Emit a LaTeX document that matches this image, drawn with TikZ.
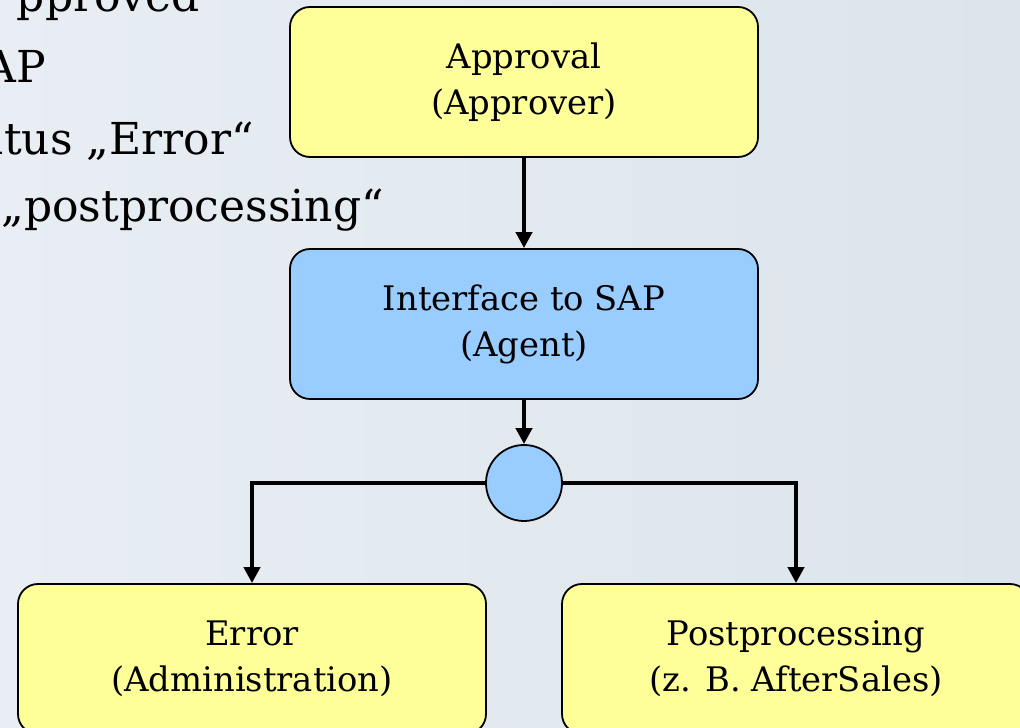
\documentclass[tikz,border=0pt]{standalone}
\usepackage{fontspec}
\setmainfont{DejaVu Serif}
\usetikzlibrary{arrows.meta}
\definecolor{bgcol}{RGB}{232,238,243}
\definecolor{bgcolb}{RGB}{220,229,236}
\definecolor{boxyellow}{RGB}{255,255,153}
\definecolor{boxblue}{RGB}{153,204,255}
\tikzset{
  stepbox/.style={draw=black, line width=1.8pt, rounded corners=20pt,
    minimum width=468pt, minimum height=150pt, align=center,
    font=\fontsize{33.8}{46}\selectfont, inner sep=0pt},
  yellowbox/.style={stepbox, fill=boxyellow},
  bluebox/.style={stepbox, fill=boxblue},
  joincircle/.style={draw=black, line width=1.8pt, circle, fill=boxblue,
    minimum size=76pt, inner sep=0pt},
  flow/.style={draw=black, line width=4.5pt,
    -{Triangle[length=16pt,width=16pt]}},
  slidetext/.style={anchor=base east, inner sep=0pt,
    font=\fontsize{44}{50}\selectfont, text=black}
}
\begin{document}
\begin{tikzpicture}[x=1pt,y=1pt]
\useasboundingbox (0,0) rectangle (1020,728);
\clip (0,0) rectangle (1020,728);
\shade[left color=bgcol, right color=bgcolb] (0,0) rectangle (1020,728);
% slide text fragments behind the diagram
\node[slidetext] (t1) at (200,716) {pproved};
\node[slidetext] (t2) at (46,645) {AP};
\node[slidetext] (t3) at (254,573) {atus „Error“};
\node[slidetext] (t4) at (384,506) {„postprocessing“};
% diagram
\node[yellowbox] (appr) at (524,646) {Approval\\(Approver)};
\node[bluebox] (iface) at (524,404) {Interface to SAP\\(Agent)};
\node[joincircle] (join) at (524,245) {};
\node[yellowbox] (err) at (252,69) {Error\\(Administration)};
\node[yellowbox] (post) at (796,69) {Postprocessing\\(z. B. AfterSales)};
\draw[flow] (appr.south) -- (iface.north);
\draw[flow] (iface.south) -- (join.north);
\draw[flow] (join.west) -| (err.north);
\draw[flow] (join.east) -| (post.north);
\end{tikzpicture}
\end{document}
